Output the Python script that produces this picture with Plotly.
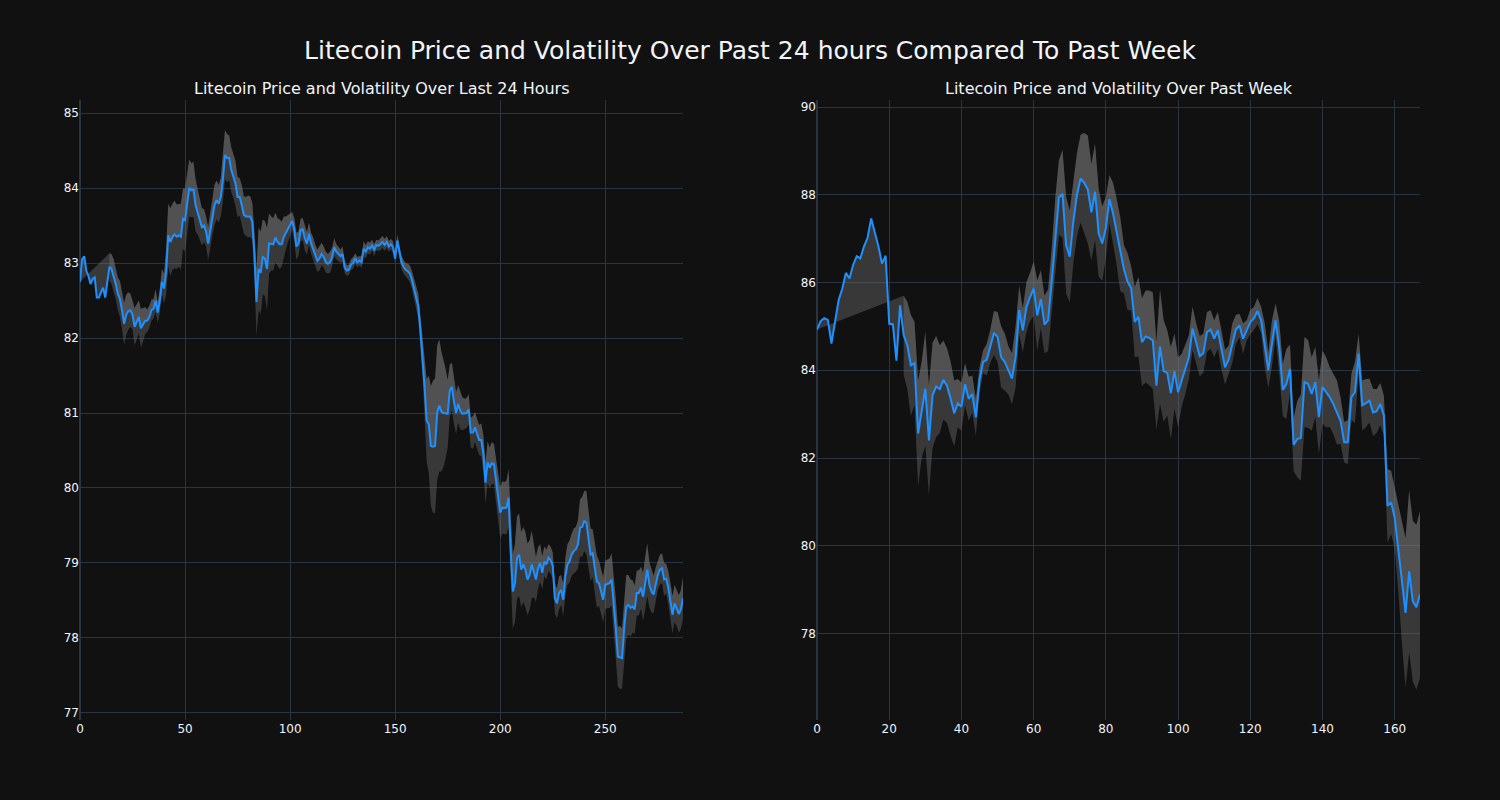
import math
import plotly.graph_objects as go
from plotly.subplots import make_subplots

NaN = float("nan")

# ---------------- Last 24 hours (5-minute steps) ----------------
price_24h = [
    82.75, 83.05, 83.09, 82.90, 82.83, 82.72, 82.79, 82.81, 82.54, 82.54,
    82.61, 82.67, 82.54, 82.77, 82.95, 82.92, 82.83, 82.72, 82.59, 82.52,
    82.37, 82.19, 82.31, 82.36, 82.37, 82.31, 82.15, 82.21, 82.28, 82.13,
    82.18, 82.23, 82.23, 82.28, 82.37, 82.39, 82.50, 82.34, 82.50, 82.75,
    82.66, 82.88, 83.37, 83.28, 83.35, 83.38, 83.35, 83.37, 83.35, 83.59,
    83.57, 83.79, 84.00, 83.97, 83.98, 83.77, 83.68, 83.59, 83.48, 83.50,
    83.42, 83.26, 83.44, 83.62, 83.77, 83.84, 83.79, 83.88, 84.11, 84.44,
    84.40, 84.40, 84.24, 84.15, 84.06, 83.88, 83.88, 83.77, 83.64, 83.62,
    83.62, 83.62, 83.55, 83.12, 82.48, 82.92, 82.87, 83.08, 83.06, 82.92,
    83.26, 83.26, 83.25, 83.34, 83.28, 83.25, 83.25, 83.35, 83.40, 83.46,
    83.51, 83.56, 83.44, 83.22, 83.26, 83.44, 83.45, 83.33, 83.26, 83.39,
    83.26, 83.19, 83.10, 83.03, 83.06, 83.12, 83.08, 83.01, 82.99, 83.01,
    83.08, 83.21, 83.15, 83.12, 83.09, 83.12, 82.94, 82.90, 82.91, 82.98,
    83.00, 83.06, 83.01, 83.03, 83.01, 83.19, 83.15, 83.21, 83.19, 83.24,
    83.17, 83.24, 83.23, 83.25, 83.28, 83.24, 83.28, 83.22, 83.25, 83.21,
    83.06, 83.30, 83.17, 83.01, 82.95, 82.91, 82.89, 82.86, 82.77, 82.66,
    82.55, 82.42, 82.10, 81.75, 81.35, 80.90, 80.85, 80.56, 80.55, 80.56,
    81.00, 81.10, 81.02, 81.00, 80.99, 80.99, 81.30, 81.35, 81.15, 81.00,
    81.12, 81.03, 80.99, 80.99, 81.00, 81.05, 80.74, 80.74, 80.81, 80.72,
    80.64, 80.64, 80.45, 80.07, 80.34, 80.27, 80.33, 80.32, 80.09, 79.87,
    79.67, 79.74, 79.73, 79.74, 79.87, 79.16, 78.62, 78.73, 79.07, 79.11,
    78.91, 78.98, 78.91, 78.78, 78.84, 78.98, 78.89, 78.78, 78.93, 79.00,
    78.87, 79.02, 78.98, 79.07, 79.04, 78.96, 78.53, 78.46, 78.60, 78.64,
    78.51, 78.82, 78.98, 79.02, 79.11, 79.16, 79.18, 79.25, 79.47, 79.48,
    79.56, 79.54, 79.33, 79.11, 79.13, 78.96, 78.75, 78.73, 78.62, 78.51,
    78.71, 78.72, 78.73, 78.78, 78.49, 78.13, 77.75, 77.74, 77.73, 78.13,
    78.42, 78.44, 78.40, 78.42, 78.38, 78.60, 78.60, 78.67, 78.55, 78.73,
    78.91, 78.71, 78.62, 78.58, 78.72, 78.84, 78.91, 78.93, 78.78, 78.79,
    78.67, 78.49, 78.31, 78.46, 78.40, 78.32, 78.38, 78.53,
]

vol_24h = [NaN] * 14 + [
    0.18, 0.20, 0.22, 0.20, 0.22, 0.24,
    0.25, 0.28, 0.27, 0.25, 0.22, 0.20, 0.25, 0.24, 0.22, 0.26,
    0.22, 0.18, 0.15, 0.15, 0.14, 0.13, 0.15, 0.14, 0.16, 0.17,
    0.20, 0.30, 0.42, 0.45, 0.44, 0.45, 0.43, 0.42, 0.44, 0.40,
    0.42, 0.40, 0.38, 0.36, 0.37, 0.35, 0.30, 0.28, 0.25, 0.22,
    0.20, 0.22, 0.22, 0.25, 0.27, 0.26, 0.25, 0.26, 0.30, 0.33,
    0.32, 0.30, 0.30, 0.28, 0.30, 0.27, 0.25, 0.27, 0.25, 0.26,
    0.28, 0.27, 0.25, 0.30, 0.45, 0.55, 0.55, 0.50, 0.50, 0.55,
    0.40, 0.36, 0.35, 0.33, 0.32, 0.33, 0.30, 0.27, 0.22, 0.18,
    0.15, 0.12, 0.16, 0.18, 0.16, 0.15, 0.15, 0.16, 0.15, 0.15,
    0.14, 0.15, 0.14, 0.15, 0.16, 0.15, 0.14, 0.14, 0.13, 0.14,
    0.12, 0.12, 0.10, 0.10, 0.09, 0.10, 0.08, 0.07, 0.07, 0.07,
    0.08, 0.07, 0.07, 0.06, 0.08, 0.10, 0.09, 0.08, 0.08, 0.07,
    0.08, 0.07, 0.07, 0.08, 0.08, 0.08, 0.08, 0.07, 0.07, 0.08,
    0.07, 0.08, 0.08, 0.09, 0.09, 0.09, 0.10, 0.11, 0.12, 0.14,
    0.15, 0.17, 0.20, 0.25, 0.40, 0.55, 0.65, 0.80, 0.88, 0.90,
    0.90, 0.88, 0.80, 0.72, 0.60, 0.45, 0.35, 0.32, 0.30, 0.28,
    0.25, 0.25, 0.22, 0.20, 0.20, 0.20, 0.20, 0.22, 0.20, 0.20,
    0.20, 0.22, 0.25, 0.28, 0.28, 0.27, 0.28, 0.27, 0.30, 0.32,
    0.34, 0.35, 0.35, 0.36, 0.38, 0.45, 0.50, 0.52, 0.55, 0.55,
    0.50, 0.50, 0.50, 0.48, 0.46, 0.45, 0.35, 0.30, 0.28, 0.25,
    0.22, 0.20, 0.20, 0.18, 0.18, 0.18, 0.20, 0.20, 0.22, 0.20,
    0.22, 0.25, 0.27, 0.28, 0.28, 0.30, 0.30, 0.32, 0.38, 0.40,
    0.40, 0.42, 0.38, 0.35, 0.32, 0.33, 0.35, 0.30, 0.30, 0.30,
    0.32, 0.32, 0.33, 0.35, 0.38, 0.40, 0.40, 0.42, 0.40, 0.40,
    0.42, 0.40, 0.38, 0.35, 0.32, 0.30, 0.30, 0.28, 0.32, 0.35,
    0.35, 0.30, 0.28, 0.25, 0.22, 0.20, 0.20, 0.20, 0.22, 0.20,
    0.22, 0.25, 0.25, 0.25, 0.24, 0.25, 0.26, 0.28,
]

# ---------------- Past week (hourly steps) ----------------
price_week = [
    84.93, 85.12, 85.19, 85.15, 84.61, 85.14, 85.60, 85.86, 86.22, 86.09,
    86.40, 86.60, 86.55, 86.82, 87.02, 87.46, 87.16, 86.83, 86.43, 86.61,
    85.06, 85.05, 84.22, 85.48, 84.80, 84.57, 84.11, 84.16, 82.56, 83.10,
    83.58, 82.40, 83.43, 83.63, 83.57, 83.78, 83.65, 83.35, 83.02, 83.25,
    83.17, 83.68, 83.35, 83.46, 82.93, 83.77, 84.19, 84.24, 84.55, 84.85,
    84.76, 84.30, 84.19, 84.00, 83.81, 84.30, 85.37, 84.91, 85.44, 85.67,
    85.86, 85.25, 85.62, 85.04, 85.14, 86.02, 87.04, 87.94, 88.02, 86.85,
    86.59, 87.40, 88.00, 88.37, 88.27, 88.12, 87.60, 88.07, 87.13, 86.89,
    87.25, 87.90, 87.57, 87.15, 86.64, 86.30, 86.02, 85.87, 85.10, 85.22,
    84.64, 84.77, 84.74, 84.68, 83.65, 84.54, 83.98, 83.94, 83.48, 83.98,
    83.50, 83.77, 84.03, 84.30, 84.95, 84.62, 84.32, 84.39, 84.87, 84.93,
    84.72, 84.91, 84.47, 84.07, 84.24, 84.61, 84.93, 85.02, 84.72, 84.91,
    85.10, 85.18, 85.35, 85.14, 84.57, 84.00, 84.61, 85.14, 84.53, 83.55,
    83.69, 84.03, 82.30, 82.43, 82.46, 83.73, 83.69, 83.46, 83.73, 82.93,
    83.62, 83.50, 83.39, 83.23, 83.04, 82.85, 82.36, 82.36, 83.39, 83.50,
    84.38, 83.20, 83.25, 83.31, 83.04, 83.07, 83.23, 82.97, 80.91, 80.99,
    80.64, 79.96, 79.16, 78.47, 79.42, 78.74, 78.60, 78.89,
]

vol_week = [NaN] * 24 + [
    0.90, 1.00, 1.15, 0.95, 1.20, 1.10,
    1.30, 1.25, 1.20, 1.15, 1.00, 0.90, 0.85, 0.85, 0.75, 0.55,
    0.55, 0.48, 0.50, 0.42, 0.42, 0.30, 0.26, 0.36, 0.38, 0.50,
    0.57, 0.70, 0.65, 0.55, 0.58, 0.70, 0.55, 0.50, 0.57, 0.55,
    0.62, 0.80, 0.66, 0.66, 0.70, 0.75, 0.90, 0.85, 1.00, 1.10,
    1.05, 0.95, 0.95, 1.00, 1.14, 1.23, 1.10, 1.10, 1.00, 0.85,
    0.70, 0.55, 0.70, 0.76, 0.84, 0.55, 0.65, 0.50, 0.80, 0.90,
    1.00, 1.05, 1.08, 1.10, 1.00, 1.30, 1.16, 0.97, 1.05, 0.85,
    0.80, 0.60, 0.57, 0.50, 0.50, 0.45, 0.46, 0.44, 0.46, 0.44,
    0.42, 0.42, 0.44, 0.40, 0.32, 0.45, 0.33, 0.27, 0.35, 0.23,
    0.28, 0.26, 0.30, 0.30, 0.50, 0.40, 0.53, 0.38, 0.60, 0.60,
    0.80, 0.55, 0.60, 0.87, 0.98, 1.03, 1.00, 0.84, 0.80, 0.84,
    0.83, 0.80, 0.68, 0.69, 0.73, 0.53, 0.46, 0.50, 0.53, 0.70,
    0.45, 0.57, 0.55, 0.50, 0.54, 0.50, 0.48, 0.45, 0.84, 0.72,
    0.70, 1.00, 1.40, 1.70, 1.85, 1.83, 1.88, 1.90,
]

TITLE = "Litecoin Price and Volatility Over Past 24 hours Compared To Past Week"
SUBTITLES = ["Litecoin Price and Volatility Over Last 24 Hours",
             "Litecoin Price and Volatility Over Past Week"]

LINE_COLOR = "#1E90FF"
BAND_FILL = "rgba(128,128,128,0.35)"
FONT = "DejaVu Sans"


def band(price, vol, sign):
    return [p + sign * v if not math.isnan(v) else None for p, v in zip(price, vol)]


fig = make_subplots(rows=1, cols=2, subplot_titles=SUBTITLES, horizontal_spacing=0.1)

for col, (price, vol) in enumerate([(price_24h, vol_24h), (price_week, vol_week)], start=1):
    x = list(range(len(price)))
    upper = band(price, vol, +1)
    lower = band(price, vol, -1)
    # base (fill anchor)
    fig.add_trace(go.Scatter(x=x, y=price, mode="lines", line=dict(width=0, color=LINE_COLOR),
                             showlegend=False, hoverinfo="skip"), row=1, col=col)
    fig.add_trace(go.Scatter(x=x, y=upper, mode="lines", line=dict(width=0, color="gray"),
                             fill="tonexty", fillcolor=BAND_FILL, showlegend=False), row=1, col=col)
    fig.add_trace(go.Scatter(x=x, y=lower, mode="lines", line=dict(width=0, color="gray"),
                             fill="tonexty", fillcolor=BAND_FILL, showlegend=False), row=1, col=col)
    fig.add_trace(go.Scatter(x=x, y=price, mode="lines", line=dict(width=2, color=LINE_COLOR),
                             showlegend=False), row=1, col=col)

fig.update_layout(
    template="plotly_dark",
    width=1500, height=800,
    font=dict(family=FONT),
    title=dict(text=TITLE, x=0.5, xanchor="center", y=0.9375, yref="container",
               yanchor="middle", font=dict(size=25, family=FONT)),
    showlegend=False,
    margin=dict(l=80, r=80, t=100, b=80),
)
fig.update_annotations(font=dict(family=FONT, size=16))
fig.update_xaxes(range=[0, 287], row=1, col=1)
fig.update_xaxes(range=[0, 167], row=1, col=2)
fig.update_yaxes(range=[76.906, 85.174], row=1, col=1)
fig.update_yaxes(range=[76.03, 90.16], row=1, col=2)

fig.write_html(
    "out.html",
    config={"displayModeBar": False},
    post_script="document.body.style.margin='0';document.body.style.overflow='hidden';",
)
